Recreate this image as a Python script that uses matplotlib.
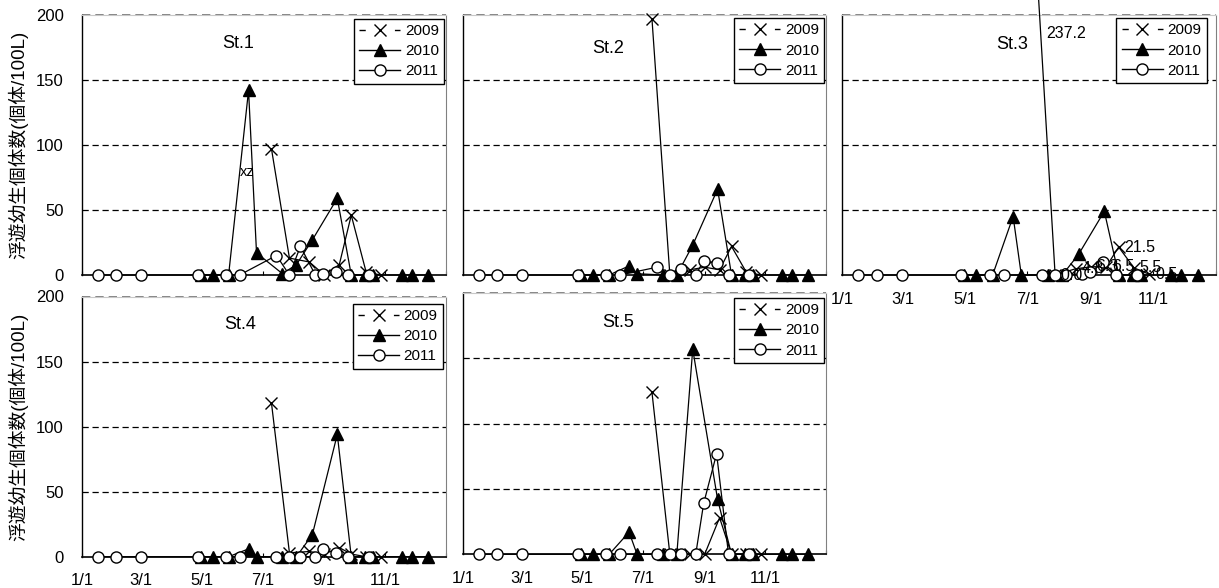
import matplotlib
matplotlib.use("Agg")
import matplotlib.pyplot as plt
from matplotlib.lines import Line2D
import pandas as pd

plt.rcParams['font.family'] = ['Liberation Sans', 'Noto Sans CJK JP', 'DejaVu Sans']

stations = ['St.1', 'St.2', 'St.3', 'St.4', 'St.5']
years = ['2009', '2010', '2011']
ylabel = '浮遊幼生個体数(個体/100L)'

# sampling dates (month-day), plotted on one common year
dates_2009 = ['07-10', '07-28', '08-17', '09-01', '09-16', '09-28', '10-13', '10-28']
dates_2010 = ['04-30', '05-12', '05-28', '06-17', '06-25', '07-21', '08-04', '08-20',
              '09-14', '09-28', '10-12', '10-20', '11-18', '11-28', '12-14']
dates_2011 = ['01-17', '02-04', '03-01', '04-27', '05-25', '06-08', '07-15', '07-28',
              '08-08', '08-23', '08-31', '09-13', '09-25', '10-16']

st1_2009 = [97, 13, 10, 0, 8, 46, 2, 0]
st2_2009 = [197, 0, 4, 6, 4, 22, 2, 0]
st3_2009 = [237.2, 0.0, 4.8, 6.3, 6.5, 21.5, 5.5, 0.5]
st4_2009 = [118, 3, 4, 2, 7, 2, 0, 0]
st5_2009 = [124, 0, 0, 0, 28, 0, 0, 0]

st1_2010 = [0, 0, 0, 142, 17, 1, 8, 27, 59, 0, 0, 0, 0, 0, 0]
st2_2010 = [0, 0, 0, 7, 1, 0, 0, 23, 66, 0, 0, 0, 0, 0, 0]
st3_2010 = [0, 0, 0, 45, 0, 0, 0, 16, 49, 0, 0, 0, 0, 0, 0]
st4_2010 = [0, 0, 0, 6, 0, 0, 0, 17, 94, 0, 0, 0, 0, 0, 0]
st5_2010 = [0, 0, 0, 17, 0, 0, 0, 157, 42, 0, 0, 0, 0, 0, 0]

st1_2011 = [0, 0, 0, 0, 0, 0, 15, 0, 22, 0, 1, 2, 0, 0]
st2_2011 = [0, 0, 0, 0, 0, 0, 6, 0, 5, 0, 11, 9, 0, 0]
st3_2011 = [0, 0, 0, 0, 0, 0, 0, 0, 0, 1, 2, 10, 0, 0]
st4_2011 = [0, 0, 0, 0, 0, 0, 0, 0, 0, 0, 6, 2.5, 0, 0]
st5_2011 = [0, 0, 0, 0, 0, 0, 0, 0, 0, 0, 39, 77, 0, 0]

vals_2009 = [st1_2009, st2_2009, st3_2009, st4_2009, st5_2009]
vals_2010 = [st1_2010, st2_2010, st3_2010, st4_2010, st5_2010]
vals_2011 = [st1_2011, st2_2011, st3_2011, st4_2011, st5_2011]

tick_dates = ['01-01', '03-01', '05-01', '07-01', '09-01', '11-01']
tick_labels = ['1/1', '3/1', '5/1', '7/1', '9/1', '11/1']


def todate(md):
    return pd.to_datetime(['2011-' + d for d in md])


d09 = todate(dates_2009)
d10 = todate(dates_2010)
d11 = todate(dates_2011)
ticks = list(todate(tick_dates)) + [pd.Timestamp('2012-01-01')]

W, H = 1219, 588
fig = plt.figure(figsize=(W / 100, H / 100), dpi=100)

# panel boxes in pixels: left, right, top, bottom
boxes = [(82, 446, 15, 275), (463, 826, 15, 275), (842, 1216, 15, 275),
         (82, 446, 296.5, 556.7), (463, 826, 293, 554.3)]
title_pos = [(0.43, 0.89), (0.40, 0.873), (0.455, 0.885), (0.434, 0.891), (0.427, 0.889)]
legend_pos = [(0.995, 0.985), (0.995, 0.988), (0.976, 0.988), (0.992, 0.972), (0.995, 0.981)]

h09 = Line2D([], [], color='black', lw=1, marker='x', ms=8, mew=1, dashes=(4.5, 21))
h10 = Line2D([], [], color='black', lw=1, marker='^', ms=9, mfc='black', mec='black')
h11 = Line2D([], [], color='black', lw=1, marker='o', ms=8, mfc='white', mec='black')

for i, st in enumerate(stations):
    l, r, t, b = boxes[i]
    ax = fig.add_axes([l / W, 1 - b / H, (r - l) / W, (b - t) / H])

    ax.plot(d09, vals_2009[i], color='black', lw=0.9, marker='x', ms=8, mew=1,
            zorder=3, clip_on=False)
    ax.plot(d10, vals_2010[i], color='black', lw=0.9, marker='^', ms=9,
            mfc='black', mec='black', zorder=4, clip_on=False)
    ax.plot(d11, vals_2011[i], color='black', lw=0.9, marker='o', ms=8,
            mfc='white', mec='black', mew=1, zorder=5, clip_on=False)

    ax.set_xlim(ticks[0], ticks[-1])
    ax.set_ylim(0, 200)
    ax.set_yticks([0, 50, 100, 150, 200])
    ax.set_xticks(ticks)
    ax.set_xticklabels(tick_labels + [''])

    for y in [50, 100, 150]:
        ax.axhline(y, color='black', lw=0.9, dashes=(5, 3), zorder=1)
    ax.axhline(200, color='#707070', lw=1.2, dashes=(5, 3), zorder=1, clip_on=False)
    ax.spines['top'].set_color('#c8c8c8')
    ax.spines['right'].set_color('#808080')
    ax.spines['left'].set_linewidth(1.0)
    ax.spines['bottom'].set_linewidth(1.2)

    ax.tick_params(axis='x', direction='in', length=3, width=0.8, pad=12,
                   labelsize=12, labelbottom=(i >= 2))
    ax.tick_params(axis='y', length=0, pad=13, labelsize=12,
                   labelleft=(i in (0, 3)))

    ax.text(title_pos[i][0], title_pos[i][1], st, transform=ax.transAxes,
            ha='center', va='center', fontsize=13)

    leg = ax.legend([h09, h10, h11], years, loc='upper right',
                    bbox_to_anchor=legend_pos[i], borderaxespad=0,
                    fancybox=False, edgecolor='black', framealpha=1,
                    fontsize=11, handlelength=2.7, handletextpad=0.3,
                    labelspacing=0.4, borderpad=0.35)
    leg.get_frame().set_linewidth(1.0)
    leg.set_zorder(10)

    if i == 0:
        ax.text(0.453, 0.396, 'xz', transform=ax.transAxes, ha='center',
                va='center', fontsize=10.5, zorder=6)
    if i == 2:
        for j, (dd, v) in enumerate(zip(d09, st3_2009)):
            off = (7, -48) if j == 0 else (4, 0)
            ax.annotate('%.1f' % v, (dd, v), xytext=off, textcoords='offset points',
                        ha='left', va='center', fontsize=11.5, zorder=6,
                        annotation_clip=False)

fig.text(18 / W, 1 - 145 / H, ylabel, rotation=90, ha='center', va='center', fontsize=13.5)
fig.text(18 / W, 1 - 427 / H, ylabel, rotation=90, ha='center', va='center', fontsize=13.5)

fig.savefig('out.png', dpi=100)
